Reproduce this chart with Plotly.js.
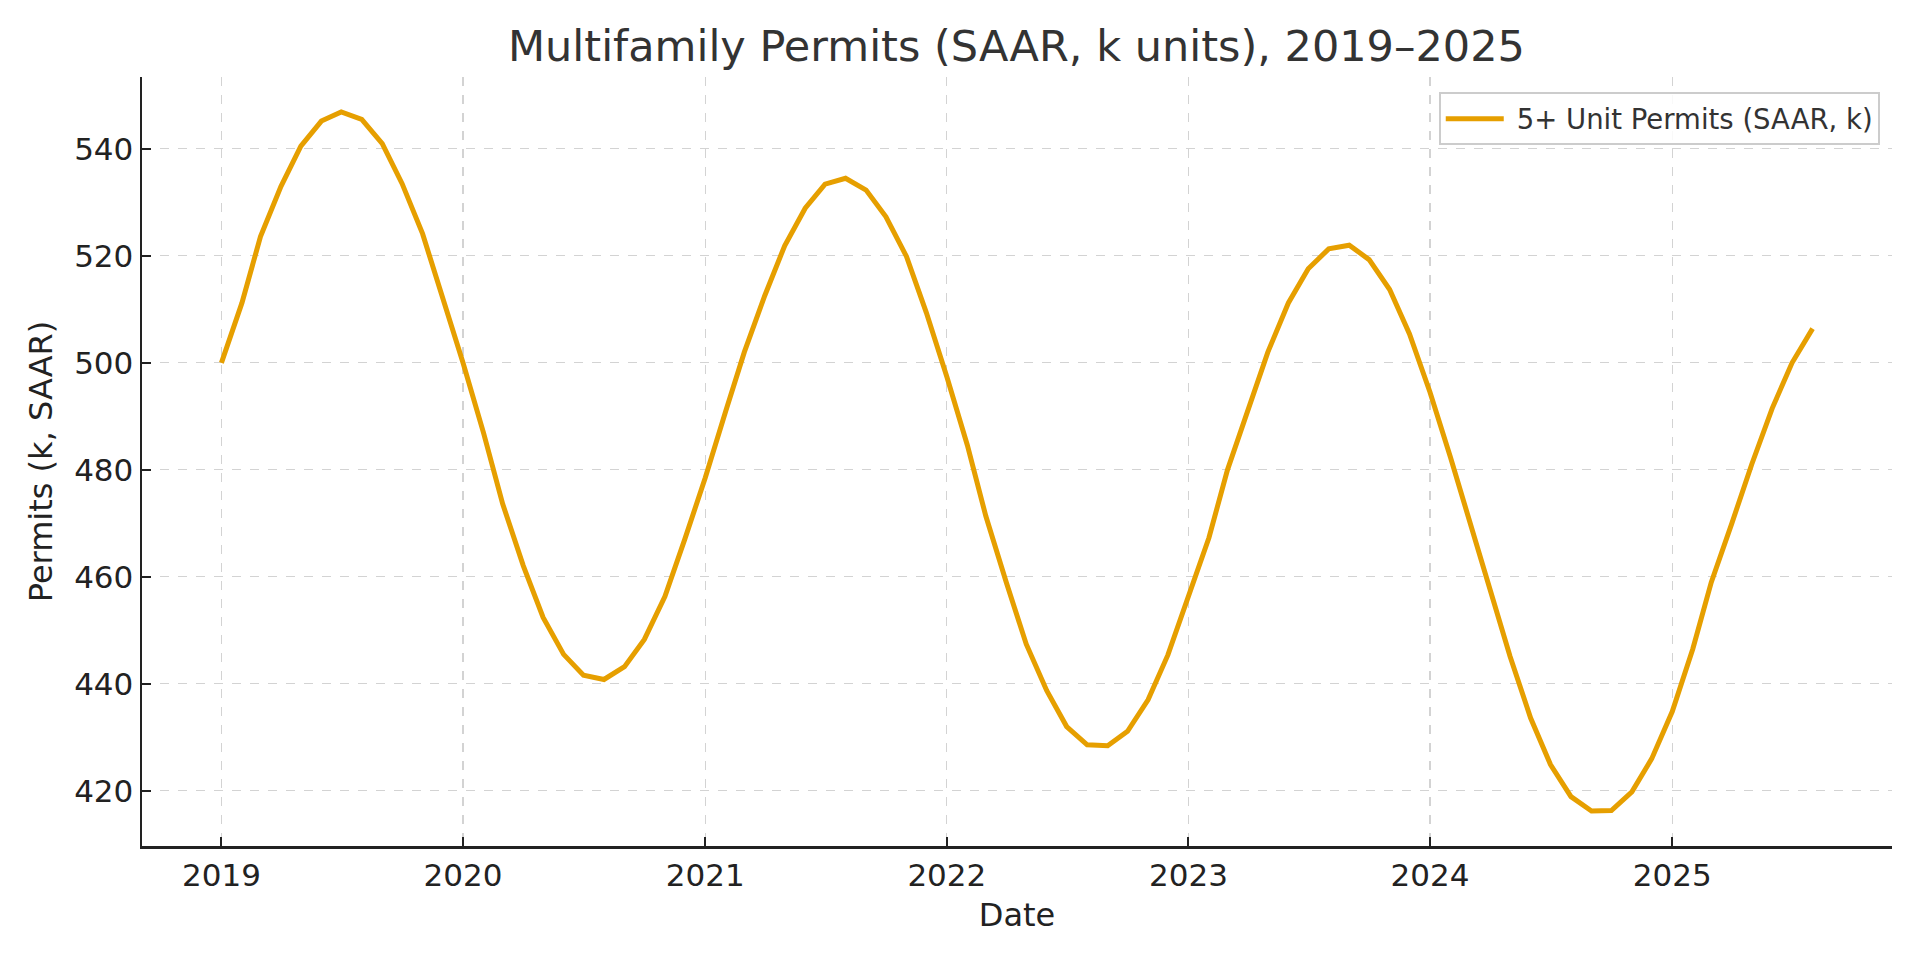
<!DOCTYPE html>
<html>
<head>
<meta charset="utf-8">
<script src="https://cdn.plot.ly/plotly-3.0.1.min.js"></script>
<style>
  html, body { margin: 0; padding: 0; background: #ffffff; }
  #chart { width: 1920px; height: 960px; }
</style>
</head>
<body>
<div id="chart"></div>
<script>
// Monthly 5+ unit permits, SAAR, thousands (Jan 2019 - Aug 2025)
const years = [2019, 2020, 2021, 2022, 2023, 2024, 2025];

const permits2019 = [500.0, 511.2, 523.6, 533.0, 540.5, 545.2, 546.9, 545.5, 541.0, 533.5, 524.1, 512.6];
const permits2020 = [500.0, 486.9, 473.6, 462.1, 452.4, 445.5, 441.6, 440.8, 443.2, 448.3, 456.3, 467.0];
const permits2021 = [478.5, 491.0, 502.0, 512.6, 521.9, 528.9, 533.4, 534.5, 532.3, 527.3, 519.9, 509.4];
const permits2022 = [497.4, 484.6, 471.3, 458.9, 447.4, 438.7, 432.0, 428.6, 428.4, 431.1, 437.0, 445.4];
const permits2023 = [456.1, 467.3, 480.0, 491.2, 502.0, 511.2, 517.6, 521.3, 522.0, 519.3, 513.7, 505.4];
const permits2024 = [494.5, 482.3, 470.3, 457.5, 445.1, 433.6, 424.9, 418.9, 416.2, 416.3, 419.8, 426.0];
const permits2025 = [434.8, 446.5, 459.0, 470.0, 481.0, 491.5, 500.0, 506.4];

const yTicks = [420, 440, 460, 480, 500, 520, 540];
const xTickLabels = ["2019", "2020", "2021", "2022", "2023", "2024", "2025"];

const seriesName = "5+ Unit Permits (SAAR, k)";
const lineColor = "#E69F00";

const perYear = [permits2019, permits2020, permits2021, permits2022, permits2023, permits2024, permits2025];

const dates = [];
const values = [];
perYear.forEach((arr, yi) => {
    arr.forEach((v, m) => {
        const mm = String(m + 1).padStart(2, "0");
        dates.push(years[yi] + "-" + mm + "-01");
        values.push(v);
    });
});

const xTickVals = years.map(y => y + "-01-01");

const trace = {
    x: dates,
    y: values,
    type: "scatter",
    mode: "lines",
    name: seriesName,
    line: { color: lineColor, width: 5 }
};

const axisFont = { family: "DejaVu Sans, sans-serif", size: 31, color: "#222222" };
const labelFont = { family: "DejaVu Sans, sans-serif", size: 32, color: "#222222" };

const layout = {
    width: 1920,
    height: 960,
    margin: { l: 142, r: 28, t: 77, b: 114 },
    paper_bgcolor: "#ffffff",
    plot_bgcolor: "#ffffff",
    font: { family: "DejaVu Sans, sans-serif", color: "#222222" },
    title: {
        text: "Multifamily Permits (SAAR, k units), 2019–2025",
        font: { family: "DejaVu Sans, sans-serif", size: 43, color: "#333333" },
        x: 0.5294,
        xanchor: "center",
        y: 0.952,
        yanchor: "middle"
    },
    xaxis: {
        type: "date",
        range: ["2018-09-03", "2025-11-29"],
        tickvals: xTickVals,
        ticktext: xTickLabels,
        tickfont: axisFont,
        ticks: "inside",
        ticklen: 9,
        tickwidth: 2,
        tickcolor: "#222222",
        showline: true,
        linecolor: "#222222",
        linewidth: 2.5,
        showgrid: true,
        gridcolor: "#d3d3d3",
        gridwidth: 1.2,
        griddash: "dash",
        zeroline: false,
        title: { text: "Date", font: labelFont, standoff: 12 }
    },
    yaxis: {
        range: [409.67, 553.44],
        tickvals: yTicks,
        tickfont: axisFont,
        ticks: "inside",
        ticklen: 9,
        tickwidth: 2,
        tickcolor: "#222222",
        showline: true,
        linecolor: "#222222",
        linewidth: 2.5,
        showgrid: true,
        gridcolor: "#d3d3d3",
        gridwidth: 1.2,
        griddash: "dash",
        zeroline: false,
        title: { text: "Permits (k, SAAR)", font: labelFont, standoff: 12 }
    },
    showlegend: true,
    legend: {
        x: 0.993,
        xanchor: "right",
        y: 0.98,
        yanchor: "top",
        itemwidth: 66,
        bgcolor: "rgba(255,255,255,0.85)",
        bordercolor: "#cccccc",
        borderwidth: 2,
        font: { family: "DejaVu Sans, sans-serif", size: 27.5, color: "#333333" }
    }
};

Plotly.newPlot("chart", [trace], layout, { displayModeBar: false, staticPlot: true }).then(() => {
    // stretch the legend line sample to fill the wider item slot
    document.querySelectorAll("#chart .legend .legendlines path").forEach(p => {
        p.setAttribute("d", "M5,0h58");
    });
});
</script>
</body>
</html>
